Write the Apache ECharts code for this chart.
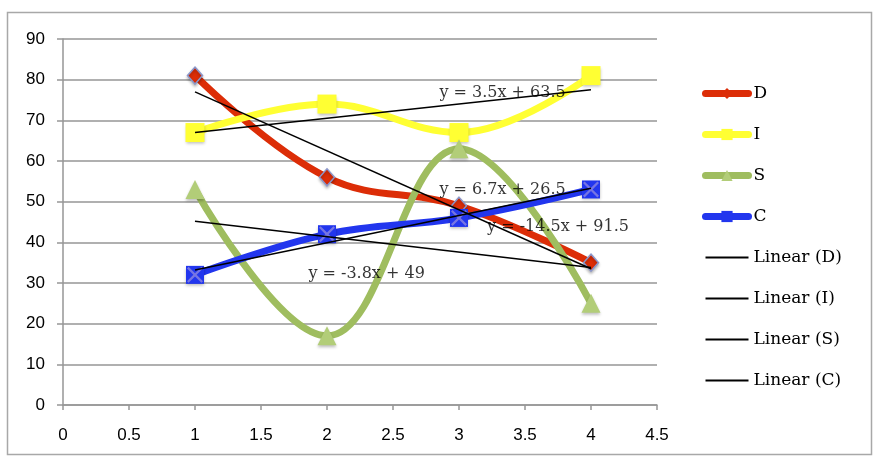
<!DOCTYPE html>
<html>
<head>
<meta charset="utf-8">
<script src="https://cdn.jsdelivr.net/npm/echarts@6/dist/echarts.min.js"></script>
<style>html,body{margin:0;padding:0;background:#fff}#c{width:881px;height:473px}</style>
</head>
<body>
<div id="c"></div>
<script>
// ---- data ----
var xValues = [1, 2, 3, 4];
var seriesNames = ['D', 'I', 'S', 'C'];
var dValues = [81, 56, 49, 35];
var iValues = [67, 74, 67, 81];
var sValues = [53, 17, 63, 25];
var cValues = [32, 42, 46, 53];
// trendline equations as printed on the chart: y = slope*x + intercept
var trendSlopes = [-14.5, 3.5, -3.8, 6.7];
var trendIntercepts = [91.5, 63.5, 49, 26.5];
var trendLabels = ['y = -14.5x + 91.5', 'y = 3.5x + 63.5', 'y = -3.8x + 49', 'y = 6.7x + 26.5'];
var xTicks = [0, 0.5, 1, 1.5, 2, 2.5, 3, 3.5, 4, 4.5];
var yTicks = [0, 10, 20, 30, 40, 50, 60, 70, 80, 90];

// ---- build ----
var allValues = [dValues, iValues, sValues, cValues];
function pairs(vals) { return xValues.map(function (x, i) { return [x, vals[i]]; }); }

var colors = ['#dc2d07', '#ffff33', '#9fbd5f', '#2236ee'];
var symbols = ['diamond', 'rect', 'triangle', 'rect'];
var symbolSizes = [[15, 17], 19, 19, 18];
var symbolFills = ['#dc2d07', '#ffff33', '#b2cd78', '#2236ee'];
var symbolBorders = ['#8a97cc', '#ffff33', '#b2cd78', '#2236ee'];
// label anchor positions (data coords) for the trend equations
var labelPos = [[3.75, 43.8], [3.33, 76.7], [2.30, 32.2], [3.33, 52.9]];

var series = [];
seriesNames.forEach(function (n, k) {
  series.push({
    name: n, type: 'line', smooth: 0.4,
    data: pairs(allValues[k]),
    symbol: symbols[k], symbolSize: symbolSizes[k],
    lineStyle: { color: colors[k], width: 7, cap: 'round' },
    itemStyle: { color: symbolFills[k], borderColor: symbolBorders[k], borderWidth: k === 0 ? 1.5 : 0,
                 shadowBlur: 3, shadowColor: 'rgba(0,0,0,0.25)', shadowOffsetY: 2 },
    z: 2
  });
});
// X overlay for C markers
series.push({
  name: 'C-x', type: 'scatter', data: pairs(cValues),
  symbol: 'path://M0,1L1,0L5,4L9,0L10,1L6,5L10,9L9,10L5,6L1,10L0,9L4,5Z',
  symbolSize: 16, itemStyle: { color: '#8c86e0' }, z: 3, silent: true
});
seriesNames.forEach(function (n, k) {
  var a = trendSlopes[k], b = trendIntercepts[k];
  var x0 = xValues[0], x1 = xValues[xValues.length - 1];
  series.push({
    name: 'Linear (' + n + ')', type: 'line', symbol: 'none',
    data: [[x0, a * x0 + b], [x1, a * x1 + b]],
    lineStyle: { color: '#000', width: 1.5 }, itemStyle: { color: '#000' }, z: 4
  });
});
series.push({
  name: 'eq', type: 'scatter', symbolSize: 0, silent: true, z: 6,
  data: trendLabels.map(function (t, k) { return { name: t, value: labelPos[k] }; }),
  label: { show: true, position: 'inside', formatter: '{b}', color: '#000',
           fontFamily: 'DejaVu Serif', fontSize: 16 }
});

var legendData = seriesNames.map(function (n, k) {
  return { name: n, lineStyle: { width: 7, cap: 'round' }, itemStyle: { borderWidth: 0, shadowBlur: 0 } };
}).concat(seriesNames.map(function (n) {
  return { name: 'Linear (' + n + ')', itemStyle: { opacity: 0 }, lineStyle: { width: 2 } };
}));

var chart = echarts.init(document.getElementById('c'), null, { renderer: 'canvas' });
chart.setOption({
  animation: false,
  backgroundColor: '#fff',
  graphic: [{
    type: 'rect', shape: { x: 7.5, y: 12.5, width: 864, height: 442 },
    style: { fill: 'none', stroke: '#a8a8a8', lineWidth: 1.5 }, z: -1
  }],
  grid: { left: 63, right: 224, top: 39, bottom: 68 },
  legend: {
    data: legendData, orient: 'vertical', left: 697, top: 80,
    itemWidth: 43, itemHeight: 14, itemGap: 24,
    textStyle: { fontFamily: 'DejaVu Serif', fontSize: 17, color: '#000' }
  },
  xAxis: {
    type: 'value', min: xTicks[0], max: xTicks[xTicks.length - 1], interval: 0.5,
    axisLine: { lineStyle: { color: '#969696', width: 1.5 } },
    axisTick: { show: true, length: 5, lineStyle: { color: '#969696', width: 1.5 } },
    axisLabel: { margin: 22, color: '#000', fontFamily: 'Liberation Sans', fontSize: 17,
                 formatter: function (v) { return String(v); } },
    splitLine: { show: false }
  },
  yAxis: {
    type: 'value', min: yTicks[0], max: yTicks[yTicks.length - 1], interval: 10,
    axisLine: { show: true, lineStyle: { color: '#969696', width: 1.5 } },
    axisTick: { show: true, length: 6, lineStyle: { color: '#969696', width: 1.5 } },
    axisLabel: { margin: 18, color: '#000', fontFamily: 'Liberation Sans', fontSize: 17 },
    splitLine: { show: true, lineStyle: { color: '#969696', width: 1.5 } }
  },
  series: series
});
</script>
</body>
</html>
